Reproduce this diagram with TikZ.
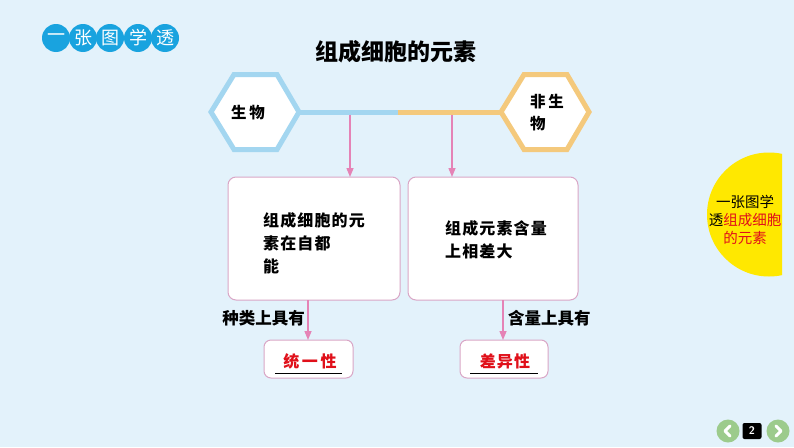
\documentclass[tikz,border=0pt]{standalone}
\usepackage{fontspec}
\setmainfont{Noto Sans CJK SC}
\newfontfamily\cjk{Noto Sans CJK SC}
\newfontfamily\cjksp[LetterSpace=7]{Noto Sans CJK SC}
\usetikzlibrary{arrows.meta}
\definecolor{bgc}{HTML}{E3F2FB}
\definecolor{cblue}{HTML}{19A3DF}
\definecolor{hexblue}{HTML}{A3D6F0}
\definecolor{hexorange}{HTML}{F4C97C}
\definecolor{pinkarrow}{HTML}{E583B6}
\definecolor{boxborder}{HTML}{D9A6C6}
\definecolor{redtxt}{HTML}{E0101A}
\definecolor{yel}{HTML}{FFE800}
\definecolor{navgreen}{HTML}{9CCB8C}
\tikzset{
  titlecirc/.style={circle,fill=cblue,minimum size=28pt,inner sep=0pt,text=white,font=\cjk\fontsize{18}{18}\selectfont},
  hexline/.style={line width=5pt,line join=miter},
  parrow/.style={draw=pinkarrow,line width=1.4pt,-{Triangle[length=9pt,width=7pt]}},
  bigbox/.style={draw=boxborder,line width=1pt,fill=white,rounded corners=8pt},
  boxtxt/.style={font=\cjksp\bfseries\fontsize{16}{23}\selectfont,align=left,anchor=north west,inner sep=0pt},
  lbl/.style={font=\cjk\bfseries\fontsize{16.5}{18}\selectfont,inner sep=0pt},
  redlbl/.style={font=\cjksp\bfseries\fontsize{16}{18}\selectfont,text=redtxt,inner sep=0pt},
}
\begin{document}
\begin{tikzpicture}[x=1pt,y=-1pt]
\useasboundingbox (0,0) rectangle (794,447);
\fill[bgc] (0,0) rectangle (794,447);
% title circles
\foreach \x/\c [count=\i] in {56/一,83/张,110/图,138/学,165/透}{
  \node[titlecirc] (t\i) at (\x,38) {\c};
}
\node[font=\cjk\bfseries\fontsize{23}{23}\selectfont] (title) at (396,52) {组成细胞的元素};
% connector line
\coordinate (lr) at (300,112);
\coordinate (mid) at (398,112);
\coordinate (rl) at (500,112);
\draw[hexblue,line width=5pt] (lr) -- (mid);
\draw[hexorange,line width=5pt] (mid) -- (rl);
% hexagons
\fill[white] (211,112) -- (234,74.5) -- (277,74.5) -- (299,112) -- (277,149.5) -- (234,149.5) -- cycle;
\draw[hexline,hexblue] (211,112) -- (234,74.5) -- (277,74.5) -- (299,112) -- (277,149.5) -- (234,149.5) -- cycle;
\node[font=\cjksp\bfseries\fontsize{15.5}{15.5}\selectfont] (hexL) at (248,113) {生\,物};
\fill[white] (501,112) -- (524,74.5) -- (567,74.5) -- (589,112) -- (567,149.5) -- (524,149.5) -- cycle;
\draw[hexline,hexorange] (501,112) -- (524,74.5) -- (567,74.5) -- (589,112) -- (567,149.5) -- (524,149.5) -- cycle;
\node[font=\cjksp\bfseries\fontsize{15.5}{22}\selectfont,align=left,anchor=north west,inner sep=0pt] (hexR) at (530,94) {非\,生\\物};
% big boxes
\draw[bigbox] (228,177) rectangle (400,300);
\draw[bigbox] (408,177) rectangle (578,300);
\node[boxtxt] (b1) at (263,212) {组成细胞的元\\素在自都\\能};
\node[boxtxt] (b2) at (445,220) {组成元素含量\\上相差大};
\coordinate (a1s) at (350,114.5);
\coordinate (a1e) at (350,177);
\coordinate (a2s) at (452,114.5);
\coordinate (a2e) at (452,177);
\draw[parrow] (a1s) -- (a1e);
\draw[parrow] (a2s) -- (a2e);
% small boxes
\draw[bigbox,rounded corners=7pt] (264,340) rectangle (353,378);
\draw[bigbox,rounded corners=7pt] (460,340) rectangle (548,378);
\coordinate (a3s) at (308,300);
\coordinate (a3e) at (308,340);
\coordinate (a4s) at (503,300);
\coordinate (a4e) at (503,340);
\draw[parrow] (a3s) -- (a3e);
\draw[parrow] (a4s) -- (a4e);
\node[lbl,anchor=east] (l1) at (305,318) {种类上具有};
\node[lbl,anchor=west] (l2) at (508,318) {含量上具有};
\node[redlbl] (r1) at (310,361) {统\,一\,性};
\draw[black,line width=0.8pt] (275,373) -- (342,373);
\node[redlbl] (r2) at (505,361) {差异性};
\draw[black,line width=0.8pt] (470,373) -- (538,373);
% yellow half disc
\begin{scope}
\clip (700,140) rectangle (782,290);
\fill[yel] (769,214.5) circle (62);
\end{scope}
\node[font=\cjk\fontsize{14.5}{18}\selectfont,align=center,inner sep=0pt] (side) at (745,220) {一张图学\\透\textcolor{redtxt}{组成细胞}\\\textcolor{redtxt}{的元素}};
% navigation
\node[circle,fill=navgreen,minimum size=23pt,inner sep=0pt] (prev) at (728,431) {};
\node[circle,fill=navgreen,minimum size=23pt,inner sep=0pt] (next) at (778,431) {};
\draw[white,line width=3pt,line cap=round,line join=round] ([xshift=2pt,yshift=-5pt]prev.center) -- ([xshift=-3pt]prev.center) -- ([xshift=2pt,yshift=5pt]prev.center);
\draw[white,line width=3pt,line cap=round,line join=round] ([xshift=-2pt,yshift=-5pt]next.center) -- ([xshift=3pt]next.center) -- ([xshift=-2pt,yshift=5pt]next.center);
\node[fill=black,rounded corners=2pt,minimum width=19pt,minimum height=16pt,inner sep=0pt,text=white,font=\sffamily\bfseries\fontsize{11}{11}\selectfont] (pg) at (752,431) {2};
\end{tikzpicture}
\end{document}
